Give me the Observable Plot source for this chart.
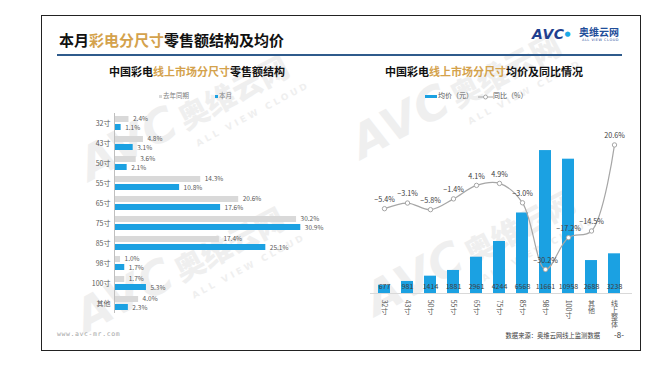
<!DOCTYPE html>
<html><head><meta charset="utf-8">
<script src="https://cdn.jsdelivr.net/npm/d3@7"></script>
<script src="https://cdn.jsdelivr.net/npm/@observablehq/plot@0.6"></script>
<style>
body{margin:0;background:#fff;}
#root{position:relative;width:664px;height:367px;background:#fff;font-family:"Noto Sans CJK SC",sans-serif;overflow:hidden;}
.abs{position:absolute;}
.gold{color:#d4a24c;}
.wm{position:absolute;color:#efefef;font-weight:900;white-space:nowrap;transform-origin:left bottom;line-height:46px;}
.wm .a{font-family:"DejaVu Sans";font-style:italic;font-size:46px;letter-spacing:1px;}
.wm .c{font-size:30px;margin-left:4px;}
.wm .e{font-family:"DejaVu Sans";font-size:9px;line-height:10px;letter-spacing:3px;display:block;margin-left:112px;margin-top:-4px;}
</style></head>
<body>
<div id="root">
  <div class="wm" style="left:100px;top:140px;transform:rotate(-28deg)"><span class="a">AVC</span><span class="c">奥维云网</span><span class="e">ALL VIEW CLOUD</span></div>
  <div class="wm" style="left:372px;top:118px;transform:rotate(-28deg)"><span class="a">AVC</span><span class="c">奥维云网</span><span class="e">ALL VIEW CLOUD</span></div>
  <div class="wm" style="left:96px;top:292px;transform:rotate(-28deg)"><span class="a">AVC</span><span class="c">奥维云网</span><span class="e">ALL VIEW CLOUD</span></div>
  <div class="wm" style="left:386px;top:275px;transform:rotate(-28deg)"><span class="a">AVC</span><span class="c">奥维云网</span><span class="e">ALL VIEW CLOUD</span></div>

  <div class="abs" style="left:41px;top:15px;width:600px;height:336px;border:1px solid #222;box-sizing:border-box;"></div>
  <div class="abs" style="left:59px;top:31px;font-size:15px;font-weight:bold;line-height:18px;color:#111;">本月<span class="gold">彩电分尺寸</span>零售额结构及均价</div>
  <div class="abs" style="left:57px;top:54px;width:565px;height:1.5px;background:#2f5b8c;"></div>
  <div class="abs" style="left:532px;top:26px;font-family:'DejaVu Sans';font-style:italic;font-weight:900;font-size:14px;line-height:17px;color:#1f3f8f;letter-spacing:0.5px;">AVC<span style="color:#19a9e6;font-size:7px;vertical-align:top;">●</span></div>
  <div class="abs" style="left:579px;top:26px;font-size:10px;font-weight:bold;line-height:12px;color:#1f4e9a;">奥维云网</div>
  <div class="abs" style="left:582px;top:38px;font-family:'DejaVu Sans';font-size:3.5px;line-height:4px;color:#1f4e9a;letter-spacing:0.5px;">ALL VIEW CLOUD</div>

  <div class="abs" style="left:97px;top:64px;width:200px;text-align:center;font-size:11px;font-weight:bold;line-height:15px;color:#111;">中国彩电<span class="gold">线上市场分尺寸</span>零售额结构</div>
  <div class="abs" style="left:384px;top:64px;width:200px;text-align:center;font-size:11px;font-weight:bold;line-height:15px;color:#111;">中国彩电<span class="gold">线上市场分尺寸</span>均价及同比情况</div>

  <div class="abs" id="legL" style="left:159px;top:91px;font-size:6.5px;line-height:9px;color:#808080;white-space:nowrap;"></div>
  <div class="abs" id="legR" style="left:425px;top:91px;font-size:7px;line-height:9px;color:#595959;white-space:nowrap;"></div>

  <div class="abs" id="left" style="left:50px;top:100px;"></div>
  <div class="abs" id="right" style="left:350px;top:110px;"></div>

  <div class="abs" style="left:57px;top:330px;font-family:'DejaVu Sans Mono';font-size:6.5px;line-height:9px;color:#a6a6a6;letter-spacing:0.6px;">www.avc-mr.com</div>
  <div class="abs" style="left:480px;top:331px;width:120px;text-align:right;font-size:6.3px;line-height:9px;color:#404040;">数据来源：奥维云网线上监测数据</div>
  <div class="abs" style="left:614px;top:330px;font-size:8px;line-height:10px;color:#333;">-8-</div>
</div>
<script>
// ---- data ----
const sizes = ["32寸","43寸","50寸","55寸","65寸","75寸","85寸","98寸","100寸","其他"];
const seriesNames = ["去年同期","本月"];
const shareLastYear = [2.4,4.8,3.6,14.3,20.6,30.2,17.4,1.0,1.7,4.0];
const shareThisMonth = [1.1,3.1,2.1,10.8,17.6,30.9,25.1,1.7,5.3,2.3];

const priceCats = ["32寸","43寸","50寸","55寸","65寸","75寸","85寸","98寸","100寸","其他","线上整体"];
const avgPrice = [677,981,1414,1881,2961,4244,6568,11661,10958,2688,3238];
const yoy = [-5.4,-3.1,-5.8,-1.4,4.1,4.9,-3.0,-30.2,-17.2,-14.5,20.6];
const legendR = ["均价（元）","同比（%）"];

const BLUE = "#1ba1e2", GRAY = "#d9d9d9", LINE = "#a6a6a6";

// ---- legends ----
document.getElementById("legL").innerHTML =
  `<span style="display:inline-block;width:3px;height:3px;background:${GRAY};vertical-align:middle;margin-right:1px"></span>${seriesNames[0]}` +
  `<span style="display:inline-block;width:3px;height:3px;background:${BLUE};vertical-align:middle;margin-left:26px;margin-right:1px"></span>${seriesNames[1]}`;
document.getElementById("legR").innerHTML =
  `<span style="display:inline-block;width:12px;height:3px;background:${BLUE};vertical-align:middle;margin-right:1px"></span>${legendR[0]}` +
  `<span style="display:inline-block;margin-left:5px;vertical-align:middle;"><svg width="15" height="6" style="vertical-align:middle"><line x1="0" y1="3" x2="15" y2="3" stroke="${LINE}" stroke-width="1"/><circle cx="7.5" cy="3" r="2" fill="#fff" stroke="${LINE}"/></svg></span>${legendR[1]}`;

// ---- left chart ----
const rowsL = [];
sizes.forEach((s, i) => {
  rowsL.push({size: s, series: seriesNames[0], value: shareLastYear[i]});
  rowsL.push({size: s, series: seriesNames[1], value: shareThisMonth[i]});
});
const left = Plot.plot({
  width: 330, height: 225,
  marginLeft: 64, marginRight: 55, marginTop: 8, marginBottom: 8,
  style: {fontFamily: "Noto Sans CJK SC", fontSize: "7px", color: "#595959", background: "transparent"},
  x: {domain: [0, 35], axis: null},
  fy: {domain: sizes, padding: 0, label: null, tickSize: 0, tickPadding: 4},
  y: {domain: seriesNames, paddingInner: 0.25, paddingOuter: 0.25, axis: null},
  color: {domain: seriesNames, range: [GRAY, BLUE]},
  marks: [
    Plot.barX(rowsL, {x: "value", y: "series", fy: "size", fill: "series"}),
    Plot.text(rowsL.filter(d => d.series === seriesNames[0]), {x: "value", y: "series", fy: "size", text: d => d.value.toFixed(1) + "%", dx: 4, dy: -0.8, textAnchor: "start", fontSize: 6.5, fill: "#595959"}),
    Plot.text(rowsL.filter(d => d.series === seriesNames[1]), {x: "value", y: "series", fy: "size", text: d => d.value.toFixed(1) + "%", dx: 4, dy: 0.8, textAnchor: "start", fontSize: 6.5, fill: "#595959"}),
    Plot.ruleX([0], {stroke: "#bfbfbf", strokeWidth: 1})
  ]
});
document.getElementById("left").appendChild(left);

// ---- right chart ----
const rowsR = priceCats.map((c, i) => ({cat: c, price: avgPrice[i], yoy: yoy[i]}));
const pct = d3.scaleLinear().domain([-40, 30]).range([0, 14000]); // secondary axis (同比 %) mapped onto price scale
const right = Plot.plot({
  width: 292, height: 220,
  marginLeft: 20, marginRight: 10, marginTop: 10, marginBottom: 37,
  style: {fontFamily: "Noto Sans CJK SC", fontSize: "7px", color: "#404040", background: "transparent", overflow: "visible"},
  x: {domain: priceCats, range: [16, 282], padding: 0.48, axis: null},
  y: {domain: [0, 14000], range: [183, 11.4], axis: null},
  marks: [
    Plot.ruleY([0], {stroke: "#d9d9d9"}),
    Plot.barY(rowsR, {x: "cat", y: "price", fill: BLUE}),
    Plot.text(rowsR, {x: "cat", y: 0, dy: -7, text: d => String(d.price), fontSize: 7, fill: "#404040"}),
    Plot.line(rowsR, {x: "cat", y: d => pct(d.yoy), curve: "catmull-rom", stroke: LINE, strokeWidth: 1.2}),
    Plot.dot(rowsR, {x: "cat", y: d => pct(d.yoy), r: 2.2, fill: "white", stroke: LINE, strokeWidth: 1}),
    Plot.text(rowsR, {x: "cat", y: d => pct(d.yoy), dy: -9, text: d => (d.yoy > 0 ? "" : "−") + Math.abs(d.yoy).toFixed(1) + "%", fontSize: 7.2, fill: "#404040"}),
    Plot.text(rowsR, {x: "cat", y: 0, dy: 4, text: "cat", fontSize: 7, fill: "#595959", textAnchor: "start"})
  ]
});
const catSet = new Set(priceCats);
right.querySelectorAll("text").forEach(t => {
  if (catSet.has(t.textContent)) {
    t.setAttribute("writing-mode", "vertical-rl");
    t.style.writingMode = "vertical-rl";
    t.style.textOrientation = "mixed";
    t.removeAttribute("dy");
  }
});
document.getElementById("right").appendChild(right);
</script>
</body></html>
